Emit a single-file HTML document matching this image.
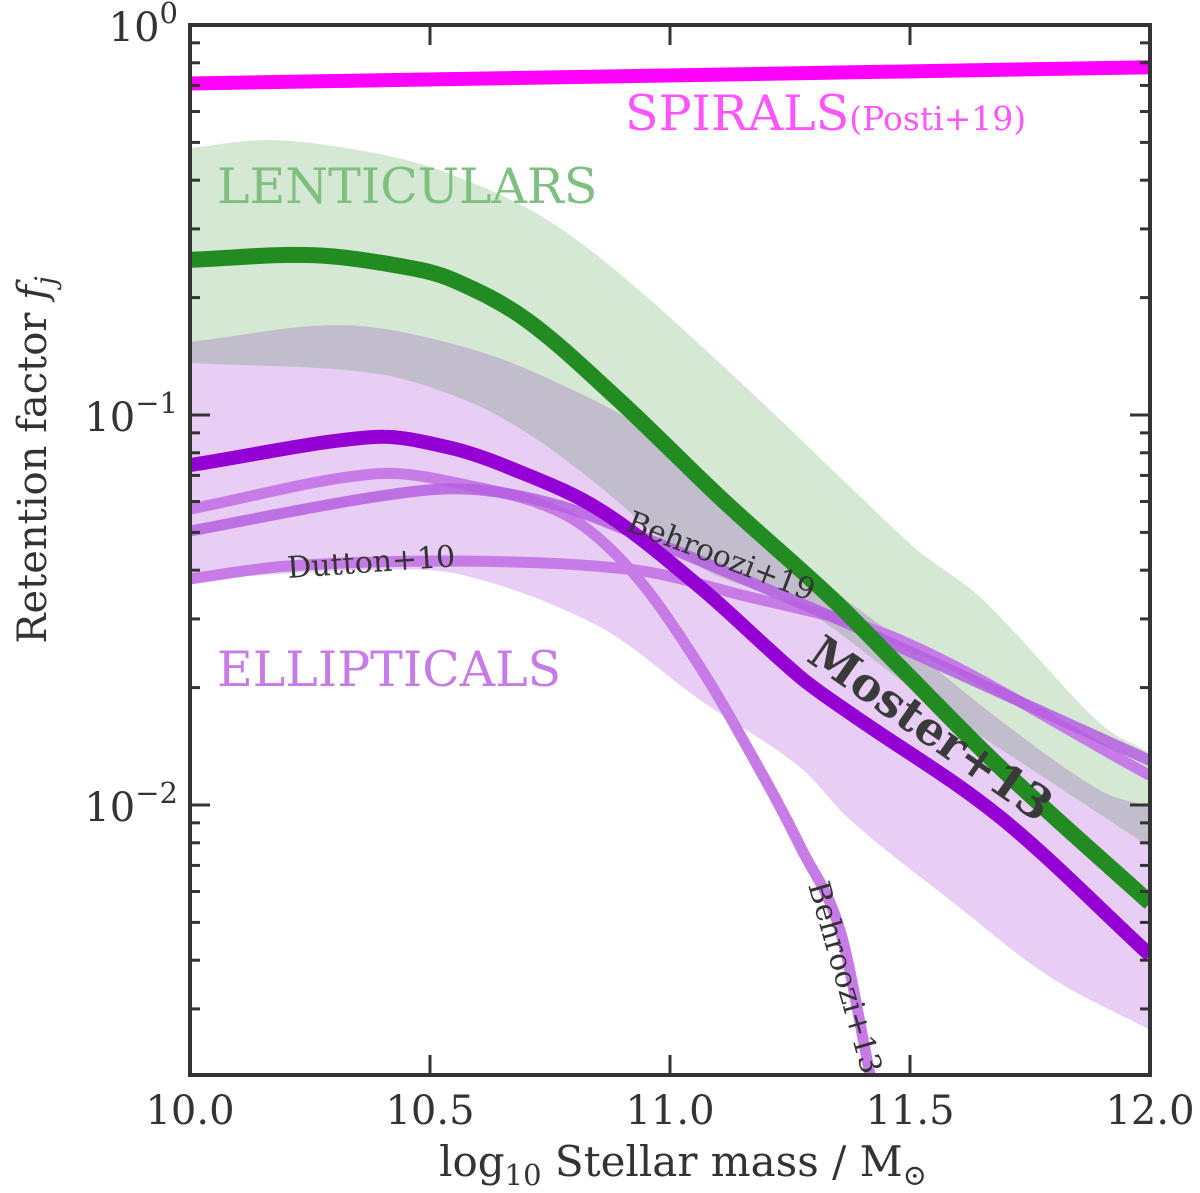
<!DOCTYPE html>
<html><head><meta charset="utf-8"><style>
html,body{margin:0;padding:0;background:#fff;}
svg{display:block;font-family:"DejaVu Serif","Liberation Serif",serif;}
</style></head><body>
<svg id="chart" width="1200" height="1193" viewBox="0 0 1200 1193">
<defs><clipPath id="plotclip"><rect x="190" y="25" width="960" height="1050"/></clipPath></defs>
<g id="plot" clip-path="url(#plotclip)"></g>
<g id="axes"></g>
</svg>
<script>
const spiralX = [10, 12];
const spiralY = [0.708, 0.779];
const lentX = [10, 10.254, 10.446, 10.548, 10.702, 10.894, 11.110, 11.340, 11.479, 11.6875, 12];
const lentY = [0.250, 0.257, 0.240, 0.222, 0.175, 0.109, 0.0605, 0.0336, 0.0226, 0.0125, 0.00561];
const lentUpX = [10, 10.167, 10.383, 10.535, 10.727, 10.894, 11.148, 11.404, 11.515, 11.652, 11.896, 12];
const lentUpY = [0.484, 0.507, 0.470, 0.418, 0.326, 0.231, 0.121, 0.0605, 0.0451, 0.0336, 0.0162, 0.0136];
const greyUpX = [10, 10.319, 10.575, 10.765, 10.956, 11.202, 11.479, 11.6875, 11.896, 12];
const greyUpY = [0.154, 0.170, 0.149, 0.121, 0.0899, 0.0478, 0.0265, 0.0165, 0.0109, 0.00989];
const greyLoX = [10, 10.383, 10.6625, 10.894, 11.148, 11.444, 11.583, 11.792, 12];
const greyLoY = [0.0605, 0.0681, 0.0605, 0.0425, 0.0250, 0.0128, 0.00848, 0.00548, 0.00371];
const ellUpX = [10, 10.383, 10.575, 10.702, 10.829, 11.0625, 11.275, 11.531, 12];
const ellUpY = [0.136, 0.128, 0.109, 0.0899, 0.0693, 0.0408, 0.0320, 0.0188, 0.0078];
const ellLoX = [10, 10.383, 10.575, 10.854, 11.0625, 11.271, 11.375, 11.583, 11.792, 12];
const ellLoY = [0.0378, 0.0401, 0.0387, 0.0286, 0.0186, 0.0125, 0.00916, 0.00571, 0.00362, 0.00265];
const mosterX = [10, 10.383, 10.535, 10.6625, 10.854, 11.0625, 11.271, 11.375, 11.6875, 12];
const mosterY = [0.0744, 0.0878, 0.0828, 0.0735, 0.0571, 0.0362, 0.0213, 0.0172, 0.00931, 0.00412];
const beh19X = [10, 10.383, 10.575, 10.765, 10.958, 11.340, 11.479, 12];
const beh19Y = [0.0504, 0.0616, 0.0646, 0.0588, 0.0478, 0.0303, 0.0254, 0.0130];
const beh13X = [10, 10.383, 10.575, 10.783, 10.923, 11.0625, 11.202, 11.275, 11.354, 11.417];
const beh13Y = [0.0574, 0.0706, 0.0662, 0.0554, 0.0394, 0.0226, 0.0114, 0.00767, 0.00478, 0.00203];
const duttonX = [10, 10.204, 10.575, 10.923, 11.131, 11.479, 12];
const duttonY = [0.0380, 0.0410, 0.0422, 0.0401, 0.0350, 0.0265, 0.0119];
const xTicks = [10.0, 10.5, 11.0, 11.5, 12.0];
const xTickLabels = ["10.0", "10.5", "11.0", "11.5", "12.0"];
const yDecades = [0, -1, -2];

const X0 = 190, X1 = 1150, Y0 = 25, DEC = 390, YB = 1075;
const sx = v => X0 + (v - 10) / 2 * (X1 - X0);
const sy = v => Y0 - Math.log10(v) * DEC;
const NS = "http://www.w3.org/2000/svg";
const plot = document.getElementById('plot');
const axes = document.getElementById('axes');

function pts(xa, ya) { return xa.map((x, i) => [sx(x), sy(ya[i])]); }
// smooth curve with x-aware tangents (p must be ordered by x, increasing or decreasing)
function smooth(p) {
  const n = p.length;
  const m = p.map((q, i) => {
    if (n < 2) return 0;
    const a = p[Math.max(0, i - 1)], b = p[Math.min(n - 1, i + 1)];
    return (b[1] - a[1]) / (b[0] - a[0]);
  });
  let d = `M${p[0][0]},${p[0][1]}`;
  for (let i = 0; i < n - 1; i++) {
    const p1 = p[i], p2 = p[i + 1], h = (p2[0] - p1[0]) / 3;
    d += ` C${p1[0] + h},${p1[1] + m[i] * h} ${p2[0] - h},${p2[1] - m[i + 1] * h} ${p2[0]},${p2[1]}`;
  }
  return d;
}
function band(xu, yu, xl, yl, fill, name) {
  const up = pts(xu, yu), lo = pts(xl, yl).reverse();
  const d = smooth(up) + ' L' + smooth(lo).slice(1) + ' Z';
  const el = document.createElementNS(NS, 'path');
  el.setAttribute('d', d);
  el.setAttribute('fill', fill);
  
  
  plot.appendChild(el);
}
function line(xa, ya, color, w, name, op) {
  const el = document.createElementNS(NS, 'path');
  el.setAttribute('d', smooth(pts(xa, ya)));
  el.setAttribute('fill', 'none');
  el.setAttribute('stroke', color);
  el.setAttribute('stroke-width', w);
  if (op) el.setAttribute('stroke-opacity', op);
  
  
  plot.appendChild(el);
}
function text(parent, x, y, s, attrs, name) {
  const el = document.createElementNS(NS, 'text');
  el.setAttribute('x', x); el.setAttribute('y', y);
  for (const k in attrs) el.setAttribute(k, attrs[k]);
  el.innerHTML = s;
  
  
  parent.appendChild(el);
  return el;
}

band(lentUpX, lentUpY, greyLoX, greyLoY, '#d4e8d4', 'lenticulars-band');
band(greyUpX, greyUpY, greyLoX, greyLoY, '#c2bdcc', 'moster-band');
band(ellUpX, ellUpY, ellLoX, ellLoY, '#e8cdf4', 'ellipticals-band');
line(duttonX, duttonY, '#c77be6', 11, 'dutton-line');
line(beh13X, beh13Y, '#c77be6', 11, 'behroozi13-line');
line(beh19X, beh19Y, '#b55fe0', 11, 'behroozi19-line', 0.85);
line(mosterX, mosterY, '#9400d3', 14, 'moster-line');
line(lentX, lentY, '#228b22', 16, 'lenticulars-line');
line(spiralX, spiralY, '#ff00ff', 14, 'spirals-line');

// labels
text(plot, 625, 130, 'SPIRALS<tspan font-size="33">(Posti+19)</tspan>', {'font-size': 49, fill: '#ff55ff'}, 'spirals-label');
text(plot, 217, 203, 'LENTICULARS', {'font-size': 49, fill: '#7fbf7f'}, 'lenticulars-label');
text(plot, 217, 686, 'ELLIPTICALS', {'font-size': 49, fill: '#c77be6'}, 'ellipticals-label');
text(plot, 288, 578, 'Dutton+10', {'font-size': 30, fill: '#333', transform: 'rotate(-4 288 578)'}, 'dutton-label');
text(plot, 625, 530, 'Behroozi+19', {'font-size': 30, fill: '#333', transform: 'rotate(21 625 530)'}, 'behroozi19-label');
text(plot, 805, 660, 'Moster+13', {'font-size': 46, 'font-weight': 'bold', fill: '#3a3a3a', transform: 'rotate(35 805 660)'}, 'moster-label');
text(plot, 808, 885, 'Behroozi+13', {'font-size': 30, fill: '#333', transform: 'rotate(74 808 885)'}, 'behroozi13-label');

// frame
const fr = document.createElementNS(NS, 'rect');
fr.setAttribute('x', X0); fr.setAttribute('y', Y0); fr.setAttribute('width', X1 - X0); fr.setAttribute('height', YB - Y0);
fr.setAttribute('fill', 'none'); fr.setAttribute('stroke', '#333'); fr.setAttribute('stroke-width', 4);


axes.appendChild(fr);

function tick(x1, y1, x2, y2, name) {
  const el = document.createElementNS(NS, 'line');
  el.setAttribute('x1', x1); el.setAttribute('y1', y1); el.setAttribute('x2', x2); el.setAttribute('y2', y2);
  el.setAttribute('stroke', '#333'); el.setAttribute('stroke-width', 3);
  
  
  axes.appendChild(el);
}
xTicks.forEach((t, i) => {
  const x = sx(t);
  tick(x, YB, x, YB - 20, 'x-tick');
  tick(x, Y0, x, Y0 + 20, 'x-tick-top');
  text(axes, x, 1124, xTickLabels[i], {'font-size': 40, fill: '#333', 'text-anchor': 'middle'}, 'x-tick-label');
});
yDecades.forEach(e => {
  const y = sy(Math.pow(10, e));
  tick(X0, y, X0 + 20, y, 'y-tick');
  tick(X1, y, X1 - 20, y, 'y-tick-right');
  const lab = e === 0 ? '10<tspan dy="-18" font-size="29">0</tspan>' : '10<tspan dy="-18" font-size="29">\u2212' + (-e) + '</tspan>';
  text(axes, 178, y + 16, lab, {'font-size': 40, fill: '#333', 'text-anchor': 'end'}, 'y-tick-label');
  for (let m = 2; m <= 9; m++) {
    const ym = sy(m * Math.pow(10, e - 1));
    if (ym > YB || ym < Y0) continue;
    tick(X0, ym, X0 + 10, ym, 'y-minor-tick');
    tick(X1, ym, X1 - 10, ym, 'y-minor-tick-right');
  }
});
text(axes, 683, 1176, 'log<tspan dy="9" font-size="29">10</tspan><tspan dy="-9"> Stellar mass / M</tspan><tspan dy="9" font-size="29">\u2299</tspan>', {'font-size': 42, fill: '#333', 'text-anchor': 'middle'}, 'x-axis-title');
text(axes, 46, 460, 'Retention factor <tspan font-style="italic">f</tspan><tspan font-style="italic" dy="9" font-size="28">j</tspan>', {'font-size': 40, fill: '#333', 'text-anchor': 'middle', transform: 'rotate(-90 46 460)'}, 'y-axis-title');
</script>
</body></html>
